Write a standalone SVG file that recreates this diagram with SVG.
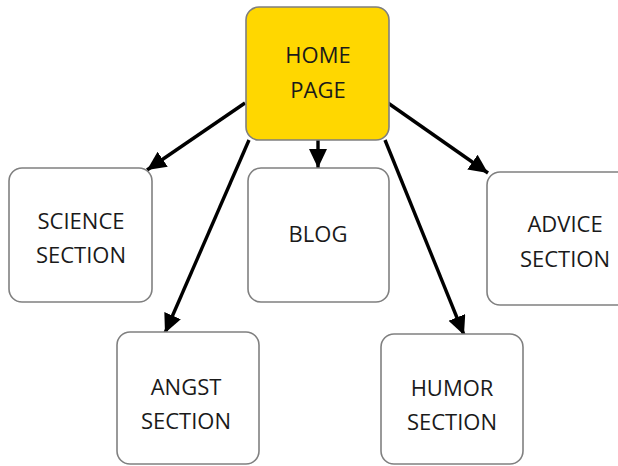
<svg xmlns="http://www.w3.org/2000/svg" width="618" height="466" viewBox="0 0 618 466">
<style>
.box{fill:#ffffff;stroke:#808080;stroke-width:1.6}
.home{fill:#ffd700;stroke:#7f7f7f;stroke-width:1.6}
.lbl{font-family:"Open Sans","Liberation Sans",Arial,sans-serif;font-size:22px;fill:#1a1a1a;text-anchor:middle}
.conn{stroke:#000;stroke-width:3.4;fill:none;marker-end:url(#ah)}
</style>
<defs>
<marker id="ah" markerUnits="userSpaceOnUse" markerWidth="22" markerHeight="20" refX="19" refY="9" orient="auto">
<path d="M0,0 L19,9 L0,18 Z" fill="#000"/>
</marker>
</defs>
<rect width="618" height="466" fill="#ffffff"/>
<g id="connectors">
<line class="conn" x1="245" y1="103" x2="147" y2="170"/>
<line class="conn" x1="249" y1="140" x2="165" y2="333"/>
<line class="conn" x1="318" y1="140" x2="318" y2="168"/>
<line class="conn" x1="385" y1="140" x2="464" y2="335"/>
<line class="conn" x1="388" y1="103" x2="488" y2="173"/>
</g>
<g id="home">
<rect class="home" x="246" y="7" width="143" height="133" rx="13"/>
<text class="lbl" x="318" y="63">HOME</text>
<text class="lbl" x="318" y="98">PAGE</text>
</g>
<g id="science">
<rect class="box" x="9" y="168" width="143" height="134" rx="13"/>
<text class="lbl" x="81" y="229">SCIENCE</text>
<text class="lbl" x="81" y="263">SECTION</text>
</g>
<g id="blog">
<rect class="box" x="248" y="168" width="141" height="134" rx="13"/>
<text class="lbl" x="318" y="242">BLOG</text>
</g>
<g id="advice">
<rect class="box" x="487" y="172" width="143" height="133" rx="13"/>
<text class="lbl" x="565" y="232">ADVICE</text>
<text class="lbl" x="565" y="267">SECTION</text>
</g>
<g id="angst">
<rect class="box" x="117" y="332" width="142" height="132" rx="13"/>
<text class="lbl" x="186" y="395">ANGST</text>
<text class="lbl" x="186" y="429">SECTION</text>
</g>
<g id="humor">
<rect class="box" x="381" y="334" width="142" height="130" rx="13"/>
<text class="lbl" x="452" y="396">HUMOR</text>
<text class="lbl" x="452" y="430">SECTION</text>
</g>
</svg>
